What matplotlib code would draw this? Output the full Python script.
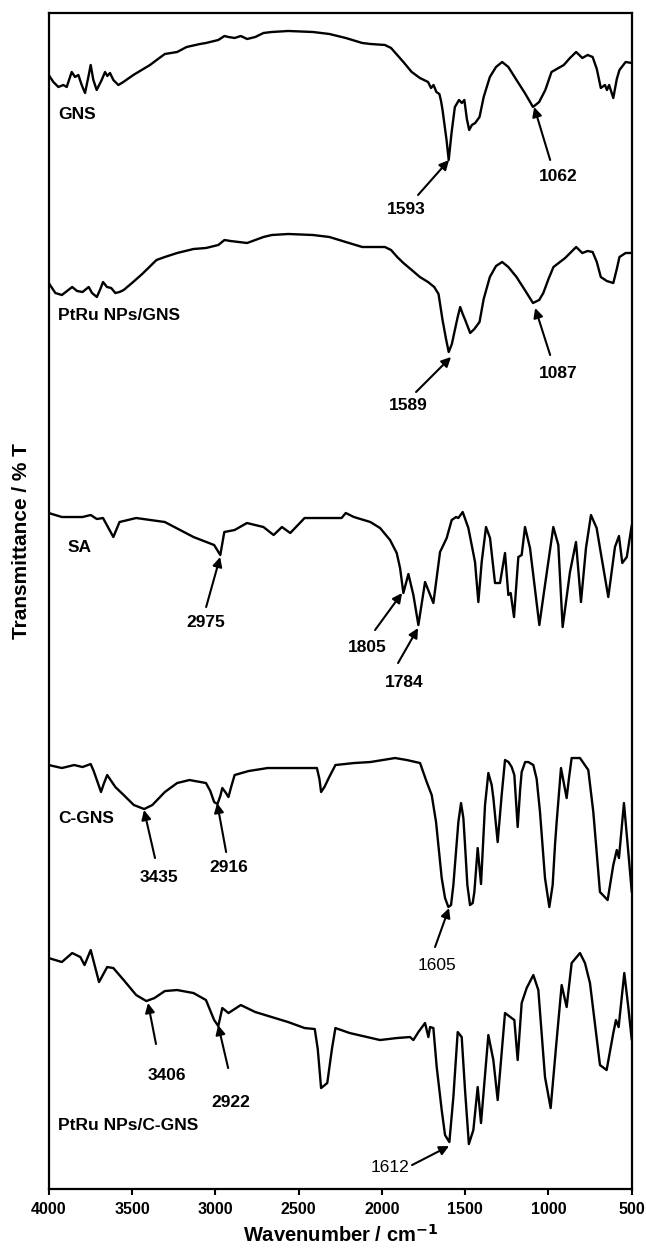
import numpy as np
import matplotlib
matplotlib.use('Agg')
import matplotlib.pyplot as plt

plt.rcParams['font.family'] = ['Liberation Sans', 'DejaVu Sans']

# FTIR spectra (wavenumber in cm-1, transmittance in arbitrary units, each curve stacked)
wn_gns = [4000, 3972, 3942, 3912, 3892, 3862, 3842, 3822, 3802, 3782, 3762, 3748, 3732, 3712,
          3682, 3662, 3648, 3632, 3612, 3582, 3552, 3492, 3432, 3392, 3352, 3303, 3229, 3172,
          3092, 3056, 2982, 2945, 2921, 2884, 2847, 2809, 2760, 2711, 2661, 2562, 2414, 2315,
          2217, 2118, 2068, 1982, 1945, 1908, 1871, 1821, 1772, 1723, 1705, 1690, 1673, 1655,
          1645, 1636, 1612, 1599, 1582, 1562, 1537, 1520, 1505, 1490, 1476, 1460, 1440, 1414,
          1389, 1352, 1315, 1278, 1241, 1192, 1142, 1093, 1056, 1019, 982, 908, 871, 834, 797,
          765, 735, 710, 686, 661, 649, 636, 611, 590, 574, 537, 500]
t_gns = [114, 107, 102, 104, 102, 117, 112, 114, 104, 96, 112, 124, 109, 99,
         109, 117, 113, 116, 109, 104, 107, 114, 120, 124, 129, 135, 137, 142,
         145, 146, 149, 153, 152, 151, 153, 150, 152, 156, 157, 158, 157, 155,
         151, 146, 145, 144, 141, 134, 127, 117, 111, 107, 101, 104, 97, 95,
         88, 79, 49, 29, 56, 82, 89, 86, 89, 70, 59, 64, 66, 72,
         92, 112, 122, 127, 122, 109, 96, 82, 87, 99, 117, 124, 131, 137, 131,
         134, 132, 120, 101, 104, 99, 104, 91, 110, 119, 127, 126]

wn_ptru_gns = [4000, 3960, 3921, 3890, 3859, 3830, 3797, 3760, 3740, 3711, 3690, 3674, 3650,
               3625, 3600, 3575, 3550, 3500, 3439, 3353, 3303, 3229, 3131, 3056, 2982, 2945,
               2909, 2859, 2809, 2711, 2661, 2562, 2414, 2315, 2217, 2118, 1982, 1945, 1908,
               1871, 1821, 1772, 1723, 1686, 1660, 1636, 1615, 1599, 1580, 1562, 1545, 1530,
               1515, 1500, 1470, 1445, 1414, 1389, 1352, 1315, 1278, 1241, 1192, 1142, 1093,
               1056, 1031, 1000, 970, 900, 834, 797, 765, 735, 710, 686, 650, 611, 590, 574,
               537, 500]
t_ptru_gns = [106, 96, 94, 98, 102, 98, 97, 102, 96, 92, 100, 107, 102,
              101, 96, 97, 99, 106, 115, 129, 132, 136, 140, 141, 144, 149,
              148, 147, 146, 152, 154, 155, 154, 152, 147, 142, 142, 139, 132,
              126, 119, 112, 107, 102, 95, 69, 50, 37, 45, 59, 72, 82,
              75, 69, 56, 60, 67, 90, 112, 123, 127, 122, 112, 99, 86,
              89, 96, 110, 122, 131, 142, 136, 138, 137, 127, 112, 108, 106, 120, 132,
              136, 136]

wn_sa = [4000, 3921, 3797, 3748, 3711, 3674, 3612, 3575, 3475, 3303, 3131, 3007, 2970, 2946,
         2884, 2810, 2711, 2650, 2600, 2550, 2464, 2242, 2217, 2168, 2069, 2011, 1951, 1911,
         1891, 1871, 1841, 1811, 1781, 1741, 1691, 1651, 1611, 1581, 1555, 1541, 1515, 1481,
         1441, 1421, 1401, 1375, 1351, 1321, 1291, 1261, 1241, 1227, 1207, 1181, 1161, 1141,
         1111, 1055, 1021, 971, 941, 915, 871, 835, 805, 775, 745, 711, 691, 641, 601, 577,
         557, 530, 500]
t_sa = [176, 172, 172, 174, 170, 171, 152, 167, 171, 167, 152, 144, 134, 157,
        159, 166, 162, 154, 162, 156, 171, 171, 176, 172, 167, 161, 149, 136,
        121, 96, 115, 94, 64, 107, 86, 137, 151, 169, 172, 171, 177, 161,
        127, 87, 127, 162, 151, 106, 106, 136, 94, 96, 72, 132, 134, 162,
        141, 64, 104, 162, 144, 62, 117, 147, 87, 141, 174, 161, 141, 92, 142, 153,
        126, 132, 164]

wn_cgns = [4000, 3921, 3847, 3797, 3748, 3730, 3711, 3686, 3670, 3649, 3600, 3550, 3489, 3427,
           3378, 3303, 3229, 3155, 3056, 3030, 3007, 2987, 2970, 2958, 2940, 2921, 2905, 2884,
           2800, 2686, 2415, 2390, 2375, 2365, 2345, 2316, 2279, 2167, 2069, 1921, 1850, 1771,
           1731, 1701, 1675, 1641, 1621, 1601, 1585, 1571, 1541, 1525, 1511, 1501, 1487, 1471,
           1455, 1445, 1425, 1405, 1381, 1361, 1341, 1331, 1305, 1281, 1261, 1240, 1221, 1205,
           1185, 1170, 1161, 1140, 1121, 1091, 1071, 1051, 1021, 995, 975, 961, 951, 925, 891,
           877, 861, 811, 761, 731, 711, 691, 645, 611, 590, 577, 547, 521, 500]
t_cgns = [174, 171, 174, 172, 175, 168, 159, 147, 155, 164, 152, 144, 134, 130,
          134, 147, 156, 159, 156, 148, 137, 135, 143, 151, 147, 142, 152, 164,
          168, 171, 171, 171, 160, 147, 152, 162, 174, 176, 177, 181, 179, 176,
          157, 144, 117, 61, 41, 32, 34, 54, 117, 136, 121, 94, 54, 34,
          36, 47, 91, 55, 134, 166, 154, 141, 97, 144, 179, 177, 172, 164,
          112, 150, 167, 177, 177, 174, 160, 127, 61, 32, 54, 94, 117, 171, 141,
          161, 181, 181, 169, 127, 87, 47, 39, 74, 89, 81, 136, 87, 47]

wn_ptru_cgns = [4000, 3921, 3859, 3810, 3785, 3748, 3698, 3649, 3612, 3550, 3475, 3414, 3365,
                3303, 3229, 3131, 3056, 3007, 2982, 2958, 2921, 2847, 2760, 2563, 2464, 2403,
                2385, 2365, 2328, 2300, 2279, 2193, 2011, 1911, 1831, 1811, 1781, 1741, 1721,
                1711, 1691, 1671, 1641, 1621, 1595, 1571, 1545, 1521, 1501, 1478, 1451, 1425,
                1405, 1361, 1331, 1305, 1261, 1205, 1185, 1161, 1131, 1091, 1061, 1021, 987,
                951, 921, 891, 861, 811, 781, 751, 691, 651, 611, 595, 579, 545, 521, 500]
t_ptru_cgns = [231, 227, 236, 232, 224, 239, 207, 222, 221, 209, 194, 188, 191,
               198, 199, 196, 189, 169, 163, 181, 176, 184, 177, 167, 161, 160,
               140, 101, 106, 140, 161, 156, 149, 151, 152, 149, 157, 166, 152,
               162, 161, 122, 79, 54, 47, 92, 157, 152, 99, 45, 59, 102,
               66, 154, 129, 89, 176, 169, 129, 186, 201, 214, 199, 112, 81,
               149, 204, 182, 226, 236, 226, 206, 124, 119, 156, 169, 162, 216, 182, 149]

spectra = [
    (wn_gns, t_gns, 1000),
    (wn_ptru_gns, t_ptru_gns, 800),
    (wn_sa, t_sa, 500),
    (wn_cgns, t_cgns, 250),
    (wn_ptru_cgns, t_ptru_cgns, 0),
]

sample_names = ['GNS', 'PtRu NPs/GNS', 'SA', 'C-GNS', 'PtRu NPs/C-GNS']
name_pos = [(3944, 1074), (3944, 874), (3884, 642), (3944, 371), (3944, 64)]

# peak labels: text, text position, arrow tail, arrow tip, bold?
peaks = [
    ('1593', (1855, 979), (1783, 994), (1597, 1029), True),
    ('1062', (942, 1012), (990, 1029), (1086, 1082), True),
    ('1589', (1843, 784), (1795, 797), (1585, 832), True),
    ('1087', (942, 816), (990, 834), (1080, 881), True),
    ('2975', (3055, 567), (3055, 582), (2971, 632), True),
    ('1805', (2089, 542), (2041, 559), (1879, 596), True),
    ('1784', (1867, 507), (1903, 526), (1783, 561), True),
    ('3435', (3338, 312), (3362, 331), (3428, 379), True),
    ('2916', (2917, 322), (2935, 337), (2989, 386), True),
    ('1605', (1669, 224), (1681, 242), (1597, 281), False),
    ('3406', (3290, 114), (3356, 145), (3404, 186), True),
    ('2922', (2905, 87), (2923, 121), (2983, 164), True),
    ('1612', (1951, 22), (1819, 24), (1597, 43), False),
]

fig = plt.figure(figsize=(6.46, 12.49), dpi=100)
ax = fig.add_axes([0.0754, 0.048, 0.9026, 0.9416])

for wn, t, off in spectra:
    ax.plot(wn, np.array(t) + off, color='black', lw=1.7,
            solid_joinstyle='round', solid_capstyle='round')

for name, (x, y) in zip(sample_names, name_pos):
    ax.text(x, y, name, fontsize=12.5, fontweight='bold', va='center', ha='left')

for lab, tpos, tail, tip, bold in peaks:
    ax.annotate('', xy=tip, xytext=tail,
                arrowprops=dict(arrowstyle='-|>', color='black', lw=1.5,
                                mutation_scale=14, shrinkA=0, shrinkB=0))
    ax.text(tpos[0], tpos[1], lab, fontsize=12.5, ha='center', va='center',
            fontweight='bold' if bold else 'normal')

ax.set_xlim(4000, 500)
ax.set_ylim(0, 1176)
ax.set_xticks([4000, 3500, 3000, 2500, 2000, 1500, 1000, 500])
ax.set_yticks([])
ax.tick_params(axis='x', direction='out', length=4, width=1.5, pad=5, labelsize=11.5)
for lbl in ax.get_xticklabels():
    lbl.set_fontweight('bold')
for sp in ax.spines.values():
    sp.set_linewidth(1.6)

ax.set_xlabel('Wavenumber / cm$^{\\mathbf{-1}}$', fontsize=14.5, fontweight='bold')
ax.set_ylabel('Transmittance / % T', fontsize=15, fontweight='bold')
ax.xaxis.label.set_va('center')
ax.yaxis.label.set_va('center')
ax.xaxis.set_label_coords(0.5, -0.039)
ax.yaxis.set_label_coords(-0.046, 0.551)

fig.savefig('out.png', dpi=100)
